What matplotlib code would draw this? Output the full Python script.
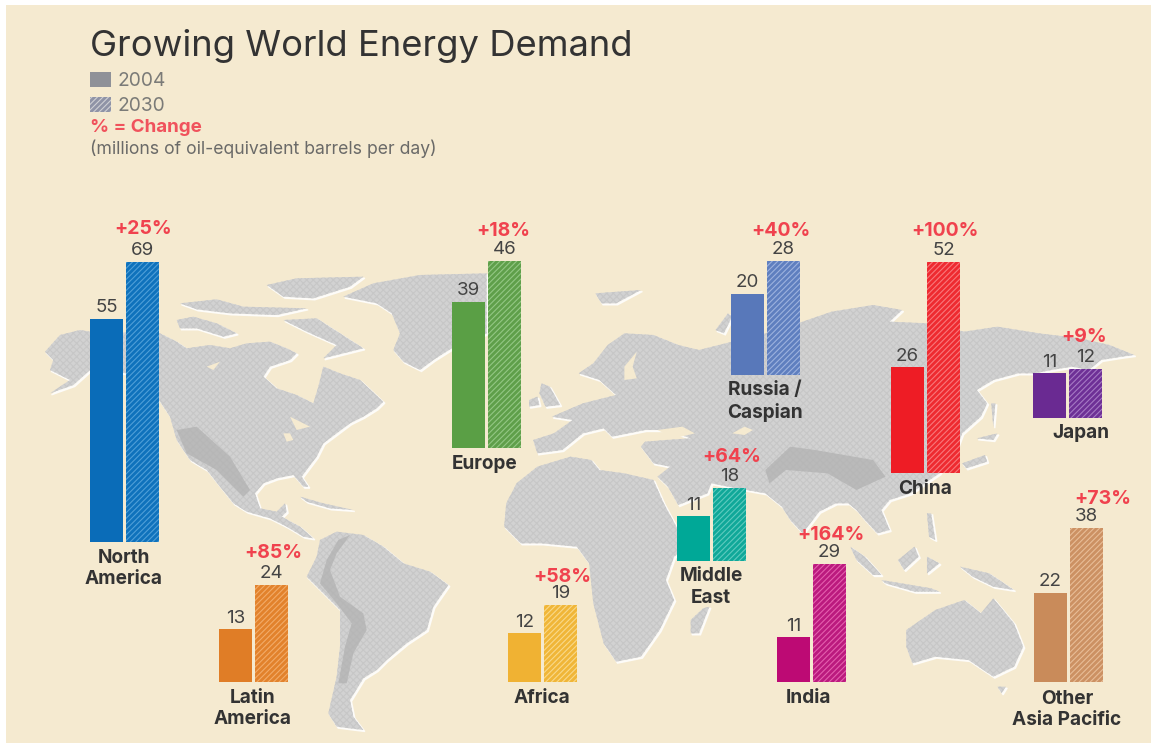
import matplotlib
matplotlib.use("Agg")
import matplotlib.pyplot as plt
from matplotlib.patches import Polygon, Rectangle

plt.rcParams['font.family'] = ['Inter', 'Liberation Sans', 'DejaVu Sans']
plt.rcParams['hatch.linewidth'] = 0.8

# ---------- data ----------
regions = ["North\nAmerica", "Latin\nAmerica", "Europe", "Africa", "Russia /\nCaspian",
           "Middle\nEast", "India", "China", "Japan", "Other\nAsia Pacific"]
labels_2004 = [55, 13, 39, 12, 20, 11, 11, 26, 11, 22]
# drawn heights of the 2004 bars (the Europe bar is drawn shorter than its label)
values_2004 = [55, 13, 36, 12, 20, 11, 11, 26, 11, 22]
values_2030 = [69, 24, 46, 19, 28, 18, 29, 52, 12, 38]
changes = ["+25%", "+85%", "+18%", "+58%", "+40%", "+64%", "+164%", "+100%", "+9%", "+73%"]
colors_2004 = ["#0a6cb8", "#e07d26", "#5a9f45", "#f0b233", "#5878ba", "#00a897", "#bd0a74", "#ee1c25", "#6a2a92", "#c98b5a"]
hatch_2030 = ["#4f9fd8", "#f2ab68", "#93c784", "#f9d98a", "#9db2de", "#5fcbbf", "#e45fae", "#f9787c", "#a679c4", "#e8bd97"]
colors_2030 = ["#0f72bc", "#e2822c", "#5f9f4a", "#f0b638", "#5f7fbf", "#10a899", "#bb1a7e", "#ee2a30", "#6e3096", "#cc9163"]

# ---------- layout (pixels) ----------
W, H = 1151, 744
x_left = [90, 219, 452, 508, 731, 677, 777, 891, 1033, 1034]
baseline = [542, 682, 448, 682, 375, 561, 682, 473, 418, 682]
bar_w, gap = 33, 3
scale = 4.06
label_pos = [(124, 567.5), (253, 707.5), (485, 463), (542, 697), (765, 400.5),
             (711, 586), (809, 697), (925, 488), (1081, 432), (1067, 708.5)]
change_pos = [(143, 228), (273, 552), (503, 229), (562, 575), (781, 229),
              (732, 455), (831, 534), (945, 229), (1084, 336), (1103, 498)]

CREAM = "#f5ead0"
LAND = "#d2d2d2"
GRAIN = "#c7c7c7"
DARK = "#b0b0b0"

def z3(p):
    return [(30 + x / 3, 270 + y / 3) for x, y in p]

def z4(p):
    return [(500 + x * 650 / 1568, 270 + y / 3) for x, y in p]

land = [
    z3([(45,245),(90,195),(150,180),(180,185),(390,190),(440,215),(470,235),(540,225),(600,235),(650,220),(720,215),
        (770,235),(800,250),(780,270),(720,290),(700,320),(740,355),(800,375),(850,400),(865,350),(880,290),(930,310),
        (990,330),(1060,395),(1040,415),(1000,440),(960,460),(920,490),(880,520),(860,560),(830,600),(815,620),(835,650),
        (820,650),(790,615),(740,625),(700,640),(675,670),(690,715),(740,725),(765,700),(770,725),(755,740),(810,770),
        (850,805),(820,800),(770,770),(720,745),(650,725),(610,700),(570,650),(530,600),(480,570),(440,510),(420,440),
        (390,395),(360,350),(290,310),(180,300),(130,345),(60,370),(120,330),(60,300),(70,270)]),
    z3([(440,150),(490,140),(560,160),(620,190),(580,200),(500,175),(450,175)]),
    z3([(710,45),(800,25),(1000,20),(960,50),(850,85),(760,80)]),
    z3([(760,150),(860,145),(930,190),(1000,235),(940,250),(880,265),(920,225),(830,185)]),
    z3([(450,100),(560,88),(640,110),(830,115),(740,135),(600,130),(500,118)]),
    z3([(940,80),(1030,40),(1170,15),(1370,10),(1370,190),(1265,235),(1210,270),(1170,300),(1120,275),(1090,240),
        (1110,190),(1085,130),(1040,100)]),
    z3([(810,680),(880,700),(970,720),(900,715),(830,695)]),
    z3([(870,810),(920,785),(1000,795),(1060,830),(1120,880),(1200,905),(1255,945),(1210,1010),(1190,1080),(1130,1120),
        (1070,1170),(1040,1200),(1000,1225),(960,1290),(970,1340),(1000,1380),(920,1370),(895,1330),(920,1220),(930,1130),
        (930,1020),(860,950),(830,920),(860,860)]),
    z4([(80,510),(130,490),(175,450),(125,440),(200,400),(280,375),(240,330),(190,310),(225,280),(260,225),(300,190),
        (370,195),(430,225),(480,240),(560,215),(640,190),(730,155),(800,125),(900,105),(970,120),(940,155),(1030,160),
        (1120,185),(1200,170),(1300,190),(1400,205),(1470,225),(1530,255),(1500,260),(1450,270),(1420,300),(1380,290),
        (1330,300),(1290,310),(1250,310),(1190,330),(1150,360),(1175,400),(1160,440),(1115,490),(1100,540),(1060,610),
        (990,670),(940,690),(920,720),(940,780),(910,790),(880,750),(860,720),(840,700),(810,700),(770,725),(730,790),
        (700,750),(680,710),(640,670),(595,660),(550,650),(510,640),(500,670),(430,705),(405,650),(380,620),(410,590),
        (370,580),(340,530),(350,515),(400,510),(460,505),(400,480),(350,480),(310,490),(270,500),(250,475),(200,490),
        (150,540),(90,550)]),
    z4([(15,700),(40,640),(90,590),(170,560),(220,570),(240,600),(300,610),(370,630),(395,700),(430,780),(480,800),
        (420,860),(400,930),(420,990),(385,1080),(340,1160),(280,1175),(250,1120),(225,1000),(215,880),(185,830),
        (100,820),(50,820),(10,770)]),
    z4([(490,1015),(505,1010),(480,1090),(460,1090),(460,1050)]),
    z4([(100,340),(120,350),(145,405),(110,410),(95,370)]),
    z4([(70,390),(90,380),(95,405),(70,410)]),
    z4([(230,70),(340,60),(280,100),(245,100)]),
    z4([(520,180),(550,130),(560,140),(540,190)]),
    z4([(740,160),(760,150),(770,190)]),
    z4([(1115,580),(1170,555),(1175,575),(1125,595)]),
    z4([(1185,400),(1195,400),(1190,470)]),
    z4([(1150,505),(1200,490),(1190,510)]),
    z4([(1030,730),(1040,730),(1050,810),(1035,800)]),
    z4([(845,830),(880,860),(920,915),(900,915),(860,870)]),
    z4([(920,930),(1040,955),(1060,965),(1000,965),(930,940)]),
    z4([(960,870),(1000,830),(1010,860),(975,900)]),
    z4([(1030,860),(1060,880),(1030,910)]),
    z4([(1110,890),(1180,910),(1240,960),(1190,950),(1140,920)]),
    z4([(980,1080),(1050,1020),(1120,990),(1160,1030),(1190,985),(1240,1060),(1262,1130),(1240,1190),(1190,1220),
        (1130,1170),(1050,1160),(995,1180),(980,1130)]),
    z4([(1200,1250),(1220,1250),(1210,1270)]),
]
ridges = [
    z3([(890,870),(925,810),(960,795),(920,850),(900,900),(930,980),(1000,1030),(1010,1080),(970,1150),(950,1240),
        (925,1240),(945,1130),(965,1060),(920,1000),(870,940)]),
    z3([(440,480),(500,470),(600,560),(660,660),(640,680),(560,600),(470,550)]),
    z4([(700,530),(760,540),(900,570),(930,620),(860,660),(790,610),(690,600),(650,640),(640,600)]),
]
waters = [
    z4([(330,245),(300,290),(300,330),(330,325),(320,290)]),
    z4([(380,480),(440,470),(470,490),(420,505)]),
    z4([(560,490),(590,470),(610,480),(590,495)]),
    z3([(780,440),(840,470),(800,480)]),
    z3([(760,490),(780,490),(790,510),(770,515)]),
    z3([(530,290),(570,275),(550,300)]),
]

# ---------- figure ----------
fig = plt.figure(figsize=(W / 100, H / 100), dpi=100, facecolor="white")
ax = fig.add_axes([0, 0, 1, 1])
ax.set_xlim(0, W)
ax.set_ylim(H, 0)
ax.axis("off")
ax.add_patch(Rectangle((6, 5), W - 6, H - 6, fc=CREAM, ec="none", zorder=0))

for p in land:
    ax.add_patch(Polygon([(x + 1.5, y + 1.5) for x, y in p], fc="white", ec="white", lw=1, zorder=1, alpha=0.8))
for p in land:
    ax.add_patch(Polygon(p, fc=LAND, ec=GRAIN, hatch="xxxxx", lw=0, zorder=2))
for p in ridges:
    ax.add_patch(Polygon(p, fc=DARK, ec="none", zorder=3, alpha=0.7))
for p in waters:
    ax.add_patch(Polygon(p, fc=CREAM, ec="none", zorder=3))

# ---------- bars ----------
for i, name in enumerate(regions):
    x0, x1 = x_left[i], x_left[i] + bar_w + gap
    h0, h1 = values_2004[i] * scale, values_2030[i] * scale
    ax.bar(x0, h0, width=bar_w, bottom=baseline[i] - h0, align="edge", color=colors_2004[i], lw=0, zorder=5)
    ax.bar(x1, h1, width=bar_w, bottom=baseline[i] - h1, align="edge", facecolor=colors_2030[i],
           edgecolor=hatch_2030[i], hatch="//////", lw=0, zorder=5)
    ax.text(x0 + bar_w / 2, baseline[i] - h0 - 11, str(labels_2004[i]), ha="center", va="center",
            fontsize=13.5, color="#444444", zorder=6)
    ax.text(x1 + bar_w / 2, baseline[i] - h1 - 11.5, str(values_2030[i]), ha="center", va="center",
            fontsize=13.5, color="#444444", zorder=6)
    ax.text(label_pos[i][0], label_pos[i][1] + 1, name, ha="center", va="center", fontsize=13.7, fontweight="bold",
            color="#333333", linespacing=1.22, zorder=6)
    ax.text(change_pos[i][0], change_pos[i][1] + 1.5, changes[i], ha="center", va="center", fontsize=14, fontweight="bold",
            color="#f0424e", zorder=6)

# ---------- title and legend ----------
ax.text(90, 46, "Growing World Energy Demand", fontsize=26.2, color="#333333", va="center", ha="left", zorder=6)
ax.bar(90, 15, width=21, bottom=72, align="edge", color="#8f9198", lw=0, zorder=5)
ax.bar(90, 15, width=21, bottom=97, align="edge", facecolor="#8f93a6", edgecolor="#cfd0d4", hatch="//////", lw=0, zorder=5)
ax.text(118, 80.5, "2004", fontsize=13.8, color="#7b7b78", va="center", zorder=6)
ax.text(118, 106, "2030", fontsize=13.8, color="#7b7b78", va="center", zorder=6)
ax.text(90, 128, "% = Change", fontsize=13.5, fontweight="bold", color="#f0525c", va="center", zorder=6)
ax.text(90, 149, "(millions of oil-equivalent barrels per day)", fontsize=12.7, color="#6a6a68", va="center", zorder=6)

fig.savefig("out.png", dpi=100, facecolor="white")
